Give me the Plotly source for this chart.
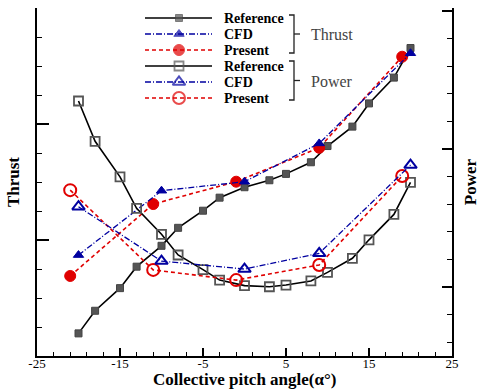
import plotly.graph_objects as go

# Collective pitch angle (deg)
pitch_ref = [-20, -18, -15, -13, -10, -8, -5, -3, 0, 3, 5, 8, 10, 13, 15, 18, 20]
pitch_cfd = [-20, -10, 0, 9, 20]
pitch_present = [-21, -11, -1, 9, 19]

# Thrust (left axis)
thrust_ref = [0.78, 1.56, 2.34, 3.08, 3.80, 4.42, 5.01, 5.46, 5.82, 6.06, 6.28,
              6.68, 7.24, 7.91, 8.71, 9.60, 10.62]
thrust_cfd = [3.48, 5.70, 6.01, 7.33, 10.44]
thrust_present = [2.76, 5.24, 6.01, 7.18, 10.32]

# Power (right axis)
power_ref = [11.74, 10.28, 8.99, 7.85, 6.91, 6.16, 5.63, 5.25, 5.05, 5.01, 5.07,
             5.22, 5.53, 6.04, 6.71, 7.63, 8.79]
power_cfd = [7.91, 5.94, 5.65, 6.22, 9.42]
power_present = [8.51, 5.62, 5.25, 5.80, 9.02]

x_ticks = [-25, -15, -5, 5, 15, 25]
legend_labels = ["Reference", "CFD", "Present", "Reference", "CFD", "Present"]
group_labels = ["Thrust", "Power"]

SERIF = "Liberation Serif"
GRAY = "#555555"
NAVY = "#0000a0"
RED = "#e00000"

line_ref = dict(color="black", width=1.6)
line_cfd = dict(color=NAVY, width=1.3, dash="6px,2px,1px,2px")
line_present = dict(color=RED, width=1.6, dash="4px,3px")

mk = {
    "thrust_ref": dict(symbol="square", size=7, color=GRAY, line=dict(color="#444", width=1)),
    "thrust_cfd": dict(symbol="triangle-up", size=9, color=NAVY, line=dict(color=NAVY, width=1)),
    "thrust_present": dict(symbol="circle", size=11, color=RED, line=dict(color=RED, width=1)),
    "power_ref": dict(symbol="square-open", size=9, color=GRAY, line=dict(width=1.8)),
    "power_cfd": dict(symbol="triangle-up-open", size=11, color=NAVY, line=dict(width=2)),
    "power_present": dict(symbol="circle-open", size=12, color=RED, line=dict(width=2)),
}

fig = go.Figure()

series = [
    (pitch_ref, power_ref, line_ref, "power_ref", "y2"),
    (pitch_present, power_present, line_present, "power_present", "y2"),
    (pitch_cfd, power_cfd, line_cfd, "power_cfd", "y2"),
    (pitch_ref, thrust_ref, line_ref, "thrust_ref", "y"),
    (pitch_present, thrust_present, line_present, "thrust_present", "y"),
    (pitch_cfd, thrust_cfd, line_cfd, "thrust_cfd", "y"),
]
for xs, ys, ln, key, ax in series:
    fig.add_trace(go.Scatter(x=xs, y=ys, mode="lines+markers", line=ln,
                             marker=mk[key], yaxis=ax, showlegend=False,
                             hoverinfo="skip"))

# Legend block drawn on a pixel-scaled overlay axis
legend_keys = ["thrust_ref", "thrust_cfd", "thrust_present",
               "power_ref", "power_cfd", "power_present"]
legend_lines = [line_ref, line_cfd, line_present, line_ref, line_cfd, line_present]
row_y = [18, 34, 50, 66, 82, 98]
x0, xm, x1, xt = 145, 179, 212, 222
for key, ln, yy, lab in zip(legend_keys, legend_lines, row_y, legend_labels):
    m = dict(mk[key])
    m["size"] = [0, mk[key]["size"], 0]
    fig.add_trace(go.Scatter(x=[x0, xm, x1], y=[yy, yy, yy], mode="lines+markers",
                             line=ln, marker=m, xaxis="x3", yaxis="y3",
                             showlegend=False, hoverinfo="skip", cliponaxis=False))
    fig.add_annotation(x=xt, y=yy, xref="x3", yref="y3", text=lab, showarrow=False,
                       xanchor="left", yanchor="middle",
                       font=dict(family=SERIF, size=14, color="black", weight="bold"))

brackets = [(15, 53), (61, 100)]
bx = 294
for (ya, yb), lab in zip(brackets, group_labels):
    ym = (ya + yb) / 2
    fig.add_shape(type="path", xref="x3", yref="y3",
                  path=f"M {bx-5},{ya} L {bx},{ya} L {bx},{yb} L {bx-5},{yb}",
                  line=dict(color="#222", width=1.3))
    fig.add_shape(type="line", xref="x3", yref="y3", x0=bx, x1=bx + 6, y0=ym, y1=ym,
                  line=dict(color="#222", width=1.3))
    fig.add_annotation(x=309, y=ym + 0.5, xref="x3", yref="y3", text=lab, showarrow=False,
                       xanchor="left", yanchor="middle",
                       font=dict(family=SERIF, size=16, color="#444"))

# x-axis title placed just under the tick labels
fig.add_annotation(x=0.5, y=-23 / 348, xref="paper", yref="paper",
                   text="Collective pitch angle(α°)", showarrow=False,
                   xanchor="center", yanchor="middle",
                   font=dict(family=SERIF, size=17, color="black", weight="bold"))

fig.update_layout(
    width=480, height=390,
    margin=dict(l=37, r=28, t=8, b=34),
    paper_bgcolor="white", plot_bgcolor="white",
    showlegend=False,
    xaxis=dict(
        range=[-25, 25], tickmode="array", tickvals=x_ticks,
        ticktext=[str(v) for v in x_ticks], automargin=False,
        ticks="inside", ticklen=8, tickwidth=1.6, tickcolor="black",
        ticklabelstandoff=-6,
        showline=True, linewidth=2, linecolor="black", mirror=False,
        showgrid=False, zeroline=False,
        minor=dict(dtick=2, tick0=-25, ticks="inside", ticklen=4, tickwidth=1,
                   tickcolor="black", showgrid=False),
        tickfont=dict(family=SERIF, size=13, color="black"),
    ),
    yaxis=dict(
        range=[0, 12], tick0=0, dtick=4, ticks="inside", ticklen=12, tickwidth=1.6,
        tickcolor="black", showticklabels=False, automargin=False,
        showline=True, linewidth=2, linecolor="black",
        showgrid=False, zeroline=False,
        minor=dict(dtick=1, tick0=0, ticks="inside", ticklen=5, tickwidth=1,
                   tickcolor="black", showgrid=False),
        title=dict(text="Thrust", standoff=11,
                   font=dict(family=SERIF, size=17, color="black", weight="bold")),
    ),
    yaxis2=dict(
        range=[2.5, 15.11], tick0=0, dtick=5, overlaying="y", side="right",
        ticks="inside", ticklen=10, tickwidth=1.6, tickcolor="black",
        showticklabels=False, automargin=False,
        showline=True, linewidth=2, linecolor="black",
        showgrid=False, zeroline=False,
        minor=dict(dtick=1, tick0=0, ticks="inside", ticklen=5, tickwidth=1,
                   tickcolor="black", showgrid=False),
        title=dict(text="Power", standoff=12,
                   font=dict(family=SERIF, size=17, color="black", weight="bold")),
    ),
    xaxis3=dict(overlaying="x", range=[37, 452], visible=False, fixedrange=True),
    yaxis3=dict(overlaying="y", range=[356, 8], visible=False, fixedrange=True),
)

fig.write_html("out.html")
